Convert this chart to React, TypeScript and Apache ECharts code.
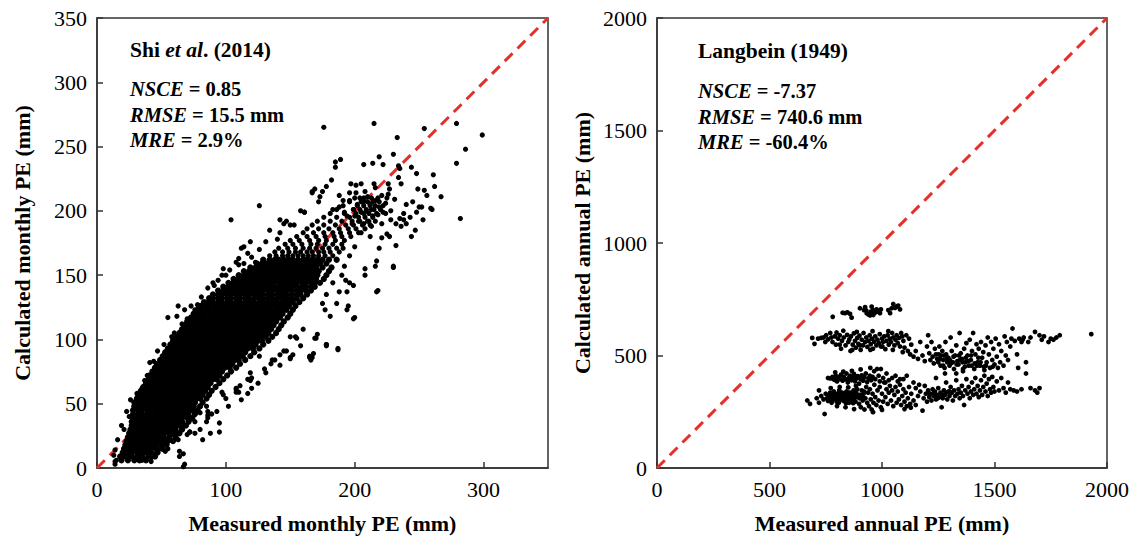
import React, { useEffect, useRef } from "react";
import * as echarts from "echarts";

// ---------- Left panel: monthly PE (Shi et al., 2014) ----------
const monthlyXTicks = [0, 100, 200, 300];
const monthlyYTicks = [0, 50, 100, 150, 200, 250, 300, 350];

// dense cloud read row by row: [calculated, [measured ...]]
const monthlyCoreRows: Array<[number, number[]]> = [
  [6, [19, 24, 29, 33, 38]],
  [9, [18, 22, 27, 31, 35, 40, 45]],
  [12, [20, 24, 27, 31, 34, 38, 42, 47]],
  [15, [21, 25, 28, 32, 35, 39, 42, 46, 51]],
  [18, [22, 26, 29, 32, 36, 39, 43, 46, 50, 54]],
  [21, [23, 27, 30, 33, 37, 40, 44, 47, 51, 55, 59]],
  [24, [24, 27, 31, 34, 38, 41, 45, 48, 52, 56, 61]],
  [27, [25, 28, 32, 35, 38, 42, 45, 49, 52, 56, 60, 64]],
  [30, [26, 29, 33, 36, 40, 43, 47, 50, 54, 57, 61, 66]],
  [33, [27, 30, 34, 37, 41, 44, 48, 51, 55, 58, 62, 65, 69]],
  [36, [27, 31, 34, 38, 41, 45, 48, 52, 55, 59, 62, 66, 71]],
  [39, [28, 31, 35, 38, 42, 45, 49, 52, 56, 59, 63, 66, 70, 74]],
  [42, [28, 32, 35, 39, 42, 46, 49, 53, 56, 60, 63, 67, 71, 76]],
  [45, [28, 32, 35, 39, 42, 46, 50, 53, 57, 60, 64, 67, 71, 74, 78]],
  [48, [29, 32, 36, 39, 43, 47, 50, 54, 57, 61, 64, 68, 72, 75, 80]],
  [51, [29, 33, 36, 40, 44, 47, 51, 54, 58, 61, 65, 69, 72, 76, 82]],
  [54, [31, 34, 38, 41, 45, 48, 52, 56, 59, 63, 66, 70, 73, 77, 80, 85]],
  [57, [32, 36, 39, 43, 46, 50, 53, 57, 61, 64, 68, 71, 75, 78, 82, 87]],
  [60, [34, 37, 41, 44, 48, 51, 55, 59, 62, 66, 69, 73, 76, 80, 84, 89]],
  [63, [36, 39, 43, 46, 50, 53, 57, 60, 64, 68, 71, 75, 78, 82, 86, 92]],
  [66, [38, 41, 45, 48, 52, 55, 59, 62, 66, 69, 73, 77, 80, 84, 88, 95]],
  [69, [40, 43, 47, 50, 54, 57, 61, 64, 68, 72, 75, 79, 82, 86, 90, 93, 98]],
  [72, [41, 45, 48, 52, 55, 59, 63, 66, 70, 73, 77, 80, 84, 88, 91, 95, 101]],
  [75, [43, 47, 50, 54, 57, 61, 64, 68, 72, 75, 79, 82, 86, 89, 93, 97, 104]],
  [78, [45, 49, 52, 56, 59, 63, 67, 70, 74, 77, 81, 85, 88, 92, 95, 99, 103, 108]],
  [81, [47, 51, 54, 58, 61, 65, 69, 72, 76, 79, 83, 87, 90, 94, 97, 101, 105, 111]],
  [84, [49, 53, 56, 60, 63, 67, 71, 74, 78, 81, 85, 89, 92, 96, 99, 103, 107, 110, 115]],
  [87, [51, 55, 58, 62, 65, 69, 73, 76, 80, 83, 87, 91, 94, 98, 101, 105, 109, 113, 119]],
  [90, [53, 57, 60, 64, 67, 71, 75, 78, 82, 85, 89, 93, 96, 100, 103, 107, 111, 115, 122]],
  [93, [55, 59, 62, 66, 69, 73, 77, 80, 84, 87, 91, 95, 98, 102, 105, 109, 113, 117, 121, 126]],
  [96, [57, 61, 64, 68, 71, 75, 79, 82, 86, 89, 93, 97, 100, 104, 107, 111, 115, 119, 123, 129]],
  [99, [59, 63, 66, 70, 73, 77, 81, 84, 88, 91, 95, 99, 102, 106, 109, 113, 117, 121, 125, 128, 133]],
  [102, [62, 65, 69, 72, 76, 79, 83, 86, 90, 94, 97, 101, 104, 108, 111, 115, 119, 123, 127, 131, 136]],
  [105, [64, 67, 71, 74, 78, 81, 85, 89, 92, 96, 99, 103, 106, 110, 114, 117, 121, 125, 129, 133, 139]],
  [108, [66, 69, 73, 76, 80, 83, 87, 91, 94, 98, 101, 105, 108, 112, 116, 119, 123, 127, 131, 135, 141]],
  [111, [68, 72, 75, 79, 82, 86, 89, 93, 96, 100, 104, 107, 111, 114, 118, 122, 125, 129, 133, 137, 143]],
  [114, [70, 74, 77, 81, 84, 88, 91, 95, 99, 102, 106, 109, 113, 117, 120, 124, 128, 131, 135, 139, 145]],
  [117, [73, 76, 80, 83, 87, 90, 94, 98, 101, 105, 108, 112, 116, 119, 123, 126, 130, 134, 138, 142, 148]],
  [120, [75, 79, 82, 86, 89, 93, 96, 100, 104, 107, 111, 114, 118, 122, 125, 129, 133, 136, 140, 144, 150]],
  [123, [78, 81, 85, 88, 92, 95, 99, 102, 106, 110, 113, 117, 120, 124, 128, 131, 135, 139, 143, 147, 152]],
  [126, [80, 84, 87, 91, 94, 98, 101, 105, 109, 112, 116, 119, 123, 127, 130, 134, 138, 141, 145, 149, 154]],
  [129, [83, 87, 90, 94, 97, 101, 104, 108, 111, 115, 119, 122, 126, 129, 133, 137, 140, 144, 148, 152, 157]],
  [132, [87, 90, 94, 97, 101, 104, 108, 111, 115, 118, 122, 126, 129, 133, 136, 140, 144, 147, 151, 155, 160]],
  [135, [90, 94, 97, 101, 104, 108, 111, 115, 118, 122, 125, 129, 133, 136, 140, 143, 147, 151, 155, 158, 163]],
  [138, [94, 98, 101, 105, 108, 112, 115, 119, 122, 126, 129, 133, 136, 140, 144, 147, 151, 155, 158, 162, 166]],
  [141, [98, 102, 105, 109, 112, 116, 119, 123, 126, 130, 133, 137, 141, 144, 148, 151, 155, 159, 162, 166, 169]],
  [144, [102, 106, 109, 113, 116, 120, 123, 127, 130, 134, 137, 141, 145, 148, 152, 155, 159, 162, 166, 169, 173]],
  [147, [106, 110, 113, 117, 120, 124, 127, 131, 134, 138, 142, 145, 149, 152, 156, 159, 163, 166, 170, 176]],
  [150, [110, 114, 117, 121, 124, 128, 131, 135, 139, 142, 146, 149, 153, 156, 160, 163, 167, 171, 178]],
  [153, [114, 118, 122, 125, 129, 132, 136, 140, 143, 147, 150, 154, 157, 161, 165, 168, 172, 180]],
  [156, [119, 123, 127, 130, 134, 138, 141, 145, 148, 152, 156, 159, 163, 167, 170, 175, 182]],
  [159, [124, 128, 132, 136, 139, 143, 147, 150, 154, 158, 161, 165, 169, 173, 178]],
  [162, [129, 134, 138, 141, 145, 149, 152, 156, 160, 163, 167, 171, 175, 180, 186]],
];

// sparser upper part of the cloud, row by row
const monthlyUpperRows: Array<[number, number[]]> = [
  [165, [134, 139, 144, 148, 152, 156, 160, 164, 168, 172, 177, 183]],
  [168, [138, 144, 149, 154, 158, 163, 167, 172, 176, 181, 188]],
  [171, [141, 148, 154, 160, 165, 170, 175, 180, 186, 191]],
  [174, [146, 152, 159, 166, 171, 177, 183, 190]],
  [177, [150, 157, 165, 172, 178, 185, 192]],
  [180, [155, 163, 170, 177, 184, 190, 197]],
  [183, [160, 168, 176, 183, 189, 196, 203]],
  [186, [163, 172, 180, 188, 195, 201, 208]],
  [189, [167, 176, 185, 193, 199, 206, 212]],
  [192, [171, 181, 190, 198, 204, 210, 216]],
  [195, [176, 186, 196, 203, 208, 214]],
  [198, [181, 192, 201, 207, 211, 217, 224]],
  [201, [186, 199, 204, 209, 213, 220]],
  [204, [191, 202, 207, 212, 216, 222]],
  [207, [196, 205, 210, 214, 219]],
  [210, [200, 207, 213, 218, 225]],
];

// scattered points around the cloud: [measured, calculated]
const monthlyFringe: Array<[number, number]> = [
  [44, 83], [46, 81], [40, 72], [37, 68], [26, 53], [23, 44], [19, 33], [16, 22], [14, 14], [13, 10],
  [60, 105], [58, 102], [64, 13], [67, 1], [72, 28], [76, 27], [86, 39], [85, 36], [73, 38], [76, 36],
  [53, 13], [55, 15], [58, 26], [63, 22], [110, 59], [117, 58], [120, 62], [119, 74], [100, 54], [97, 59],
  [89, 42], [93, 44], [55, 117], [63, 126], [78, 127], [91, 142], [100, 150], [103, 154], [108, 160], [110, 163],
  [114, 172], [119, 176], [104, 193], [126, 204], [142, 193], [147, 192], [153, 189], [158, 200], [161, 199],
  [167, 215], [169, 217], [176, 265], [112, 171], [117, 167], [120, 164], [114, 159], [110, 158], [98, 155],
  [97, 150], [90, 144], [84, 129], [76, 123], [70, 116], [134, 185], [142, 183], [145, 190], [150, 189],
  [178, 95], [187, 92], [169, 101], [165, 87], [154, 102], [142, 88], [147, 91], [194, 123], [195, 126],
  [199, 116], [177, 123], [175, 128], [178, 135], [188, 137], [194, 137], [196, 144], [199, 142], [193, 146],
  [192, 157], [150, 102], [155, 101], [170, 101], [178, 96], [165, 86], [166, 84], [152, 88], [150, 85],
  [135, 81], [138, 84], [126, 87], [120, 70], [117, 69], [108, 62], [108, 59], [98, 57], [85, 48], [86, 44],
  [80, 43], [72, 28], [70, 26], [67, 11], [55, 39], [59, 35], [57, 32], [49, 15], [45, 11], [42, 5], [36, 8],
  [23, 11], [14, 5], [14, 3], [15, 6], [24, 9], [35, 6], [42, 8], [64, 9], [68, 3], [55, 21], [41, 82],
  [39, 72], [187, 93], [178, 96], [168, 89], [167, 86], [171, 104], [200, 117], [218, 138], [230, 157],
  [145, 91], [150, 86], [136, 84], [130, 77], [119, 68], [111, 64], [108, 61], [86, 41], [80, 30],
  [215, 268], [254, 264], [279, 268], [299, 259], [233, 257], [286, 248], [279, 237], [282, 194],
  [185, 238], [189, 240], [185, 234], [207, 236], [214, 237], [219, 242], [222, 236], [230, 244], [234, 235],
  [235, 233], [244, 234], [248, 229], [261, 228], [267, 211], [260, 201], [262, 219], [254, 216], [249, 217],
  [256, 212], [245, 207], [250, 203], [252, 203], [248, 199], [243, 195], [247, 185], [238, 193], [236, 188],
  [232, 173], [230, 156], [217, 137], [219, 171], [244, 180], [240, 190], [208, 155], [208, 150], [217, 161],
  [216, 157], [212, 180], [221, 179], [225, 182], [227, 180], [232, 190], [235, 194], [238, 198], [259, 202],
  [253, 193], [197, 221], [201, 220], [205, 221], [215, 221], [216, 218], [226, 221], [227, 217], [234, 226],
  [236, 221], [182, 224], [178, 219], [175, 215], [173, 211], [172, 207], [167, 214], [161, 199], [188, 212],
  [191, 208], [196, 214], [188, 203], [183, 201], [192, 199], [194, 196], [200, 196], [203, 192], [207, 190],
  [211, 192], [214, 196], [215, 201], [212, 205], [207, 207], [202, 205], [199, 201], [205, 199], [209, 200],
  [204, 210], [210, 211], [216, 208], [219, 203], [218, 197], [198, 190], [196, 208], [213, 188], [208, 215],
  [201, 214], [221, 212], [224, 206], [222, 199], [228, 200], [231, 209], [226, 213], [240, 205], [228, 193],
  [62, 118], [68, 123], [73, 126], [81, 133], [86, 140], [94, 146], [71, 110], [66, 112], [52, 96], [47, 91],
  [35, 62], [31, 58], [33, 47], [25, 40], [21, 30], [88, 27], [95, 35], [102, 48], [112, 53], [125, 66],
  [131, 74], [142, 80], [158, 95], [160, 108], [181, 118], [186, 128], [183, 144], [190, 150], [196, 165],
  [200, 172], [205, 183], [221, 190], [126, 170], [131, 176], [140, 178], [123, 160], [95, 28], [82, 22],
];

// ---------- Right panel: annual PE (Langbein, 1949) ----------
const annualTicks = [0, 500, 1000, 1500, 2000];

const annualTopCluster: Array<[number, number]> = [
  [781, 672], [825, 690], [846, 692], [858, 685], [865, 668], [902, 710], [920, 702], [932, 688], [939, 683],
  [947, 678], [954, 717], [961, 702], [969, 690], [976, 705], [984, 695], [991, 688], [961, 680], [1028, 702],
  [1036, 688], [1050, 729], [1065, 717], [1072, 722], [1080, 705], [1043, 710], [930, 700], [950, 695],
  [995, 705], [925, 715], [1058, 712], [835, 688],
];

const annualMiddleBand: Array<[number, number]> = [
  [690, 578], [700, 552], [716, 575], [730, 578], [740, 580], [748, 560], [760, 572], [770, 600], [775, 580],
  [780, 560], [790, 585], [795, 548], [805, 575], [812, 590], [818, 530], [822, 565], [830, 580], [838, 545],
  [845, 592], [850, 560], [855, 572], [860, 520], [862, 585], [870, 548], [875, 598], [880, 565], [884, 535],
  [890, 578], [895, 552], [900, 588], [905, 525], [910, 570], [915, 545], [918, 600], [925, 560], [930, 580],
  [935, 538], [940, 565], [945, 590], [950, 550], [955, 575], [960, 530], [965, 562], [970, 585], [975, 545],
  [980, 570], [986, 555], [990, 595], [995, 540], [1000, 575], [1005, 560], [1010, 585], [1015, 528], [1020, 565],
  [1025, 590], [1030, 548], [1035, 575], [1040, 560], [1045, 600], [1050, 580], [1055, 545], [1060, 570],
  [1065, 590], [1070, 555], [1075, 578], [1080, 540], [1085, 600], [1090, 585], [1095, 565], [1100, 535],
  [1108, 590], [1115, 520], [1120, 575], [1125, 505], [1130, 548], [1140, 495], [1150, 520], [1160, 485],
  [1170, 560], [1180, 500], [1190, 475], [1200, 540], [1205, 590], [1210, 510], [1215, 480], [1220, 560],
  [1225, 495], [1230, 465], [1235, 530], [1240, 505], [1245, 485], [1250, 470], [1255, 540], [1260, 455],
  [1262, 500], [1268, 520], [1272, 480], [1278, 445], [1282, 560], [1285, 505], [1290, 470], [1295, 490],
  [1300, 455], [1305, 580], [1310, 520], [1315, 470], [1320, 440], [1325, 500], [1330, 545], [1335, 475],
  [1340, 460], [1345, 600], [1350, 510], [1355, 485], [1360, 440], [1365, 530], [1370, 470], [1375, 555],
  [1380, 500], [1385, 455], [1390, 570], [1395, 480], [1400, 520], [1405, 600], [1410, 440], [1415, 505],
  [1420, 550], [1425, 470], [1430, 530], [1435, 455], [1440, 560], [1445, 490], [1450, 515], [1455, 435],
  [1460, 545], [1465, 470], [1470, 580], [1475, 505], [1480, 445], [1485, 560], [1490, 480], [1495, 530],
  [1500, 460], [1505, 575], [1510, 495], [1515, 445], [1520, 550], [1525, 470], [1530, 520], [1540, 455],
  [1545, 585], [1550, 500], [1555, 560], [1560, 480], [1570, 540], [1575, 575], [1580, 620], [1590, 565],
  [1600, 505], [1605, 445], [1610, 575], [1620, 560], [1625, 570], [1630, 580], [1640, 470], [1650, 560],
  [1660, 580], [1680, 605], [1700, 590], [1710, 570], [1720, 585], [1740, 560], [1750, 575], [1762, 570],
  [1775, 580], [1790, 590], [1930, 595], [812, 548], [868, 525], [902, 545], [948, 525], [1002, 540],
  [1048, 525], [1092, 515], [1272, 455], [1302, 480], [1342, 500], [1368, 450], [1398, 455], [1428, 490],
  [1462, 455], [1492, 450], [752, 590], [798, 602], [828, 610], [888, 605], [958, 608], [1028, 608],
  [1252, 505], [1258, 485], [1276, 500], [1288, 485], [1306, 465], [1318, 495], [1332, 460], [1346, 480],
  [1358, 470], [1372, 490], [1384, 475], [1396, 500], [1412, 465], [1422, 455], [1438, 470], [1452, 450],
];

const annualLowerBand: Array<[number, number]> = [
  [760, 400], [770, 398], [780, 405], [790, 392], [795, 410], [800, 385], [805, 402], [812, 395], [818, 415],
  [825, 388], [830, 405], [836, 395], [842, 420], [848, 380], [852, 400], [858, 410], [864, 390], [870, 402],
  [875, 418], [880, 385], [886, 398], [892, 408], [898, 375], [904, 395], [910, 412], [916, 388], [922, 403],
  [928, 420], [934, 382], [940, 398], [946, 410], [952, 390], [958, 405], [965, 430], [970, 395], [978, 440],
  [985, 410], [990, 385], [995, 440], [1005, 400], [1015, 380], [1030, 390], [1060, 410], [1080, 395],
  [668, 300], [680, 285], [710, 310], [720, 290], [730, 320], [740, 305], [745, 240], [750, 330], [755, 310],
  [760, 298], [765, 322], [770, 335], [775, 312], [778, 300], [782, 325], [786, 340], [790, 308], [794, 318],
  [798, 295], [802, 330], [806, 312], [810, 345], [814, 302], [818, 322], [822, 335], [826, 310], [830, 298],
  [834, 328], [838, 315], [842, 340], [846, 305], [850, 325], [854, 290], [858, 315], [862, 335], [866, 300],
  [870, 322], [874, 345], [878, 310], [882, 295], [886, 330], [890, 350], [894, 315], [898, 285], [902, 325],
  [906, 270], [910, 345], [914, 300], [918, 330], [922, 260], [926, 310], [930, 360], [934, 290], [938, 335],
  [942, 275], [946, 350], [950, 305], [954, 260], [958, 330], [962, 290], [966, 370], [970, 315], [975, 280],
  [980, 345], [985, 300], [990, 360], [995, 270], [1000, 330], [1005, 295], [1010, 380], [1015, 315],
  [1020, 350], [1025, 285], [1030, 335], [1035, 365], [1040, 300], [1045, 345], [1050, 275], [1055, 325],
  [1060, 360], [1065, 290], [1070, 340], [1075, 305], [1080, 370], [1085, 280], [1090, 320], [1095, 350],
  [1100, 295], [1105, 335], [1110, 275], [1115, 310], [1120, 360], [1125, 285], [1130, 330], [1140, 300],
  [1150, 355], [1160, 320], [1170, 340], [1180, 255], [1185, 310], [1190, 365], [1195, 330], [1200, 295],
  [1205, 345], [1210, 315], [1215, 330], [1220, 300], [1225, 350], [1230, 320], [1235, 340], [1240, 305],
  [1245, 325], [1250, 355], [1255, 315], [1260, 335], [1265, 270], [1270, 310], [1275, 345], [1280, 325],
  [1285, 380], [1290, 305], [1295, 340], [1300, 320], [1305, 360], [1310, 335], [1315, 300], [1320, 345],
  [1325, 320], [1330, 390], [1335, 330], [1340, 350], [1345, 310], [1350, 335], [1355, 365], [1360, 320],
  [1365, 280], [1370, 345], [1375, 395], [1380, 330], [1385, 360], [1390, 310], [1395, 340], [1400, 380],
  [1405, 325], [1410, 350], [1415, 400], [1420, 330], [1425, 365], [1430, 315], [1435, 345], [1440, 390],
  [1445, 325], [1450, 360], [1455, 410], [1460, 340], [1465, 375], [1470, 320], [1475, 395], [1480, 350],
  [1485, 335], [1490, 405], [1495, 360], [1500, 340], [1510, 385], [1520, 345], [1530, 400], [1540, 355],
  [1550, 335], [1560, 380], [1570, 350], [1585, 345], [1600, 340], [1620, 350], [1640, 420], [1660, 355],
  [1680, 345], [1690, 335], [1700, 355], [1020, 420], [1045, 400], [1070, 385], [1095, 395], [1110, 410],
  [1140, 380], [1165, 370], [1240, 400], [1280, 420], [1330, 420], [1360, 430], [792, 425], [828, 428],
  [866, 432], [905, 438], [948, 445], [884, 365], [850, 358], [812, 360], [772, 355], [720, 345],
  [800, 275], [838, 270], [876, 262], [960, 248], [1000, 258], [1100, 262], [1150, 280], [1128, 268],
  [772, 318], [780, 330], [788, 315], [796, 325], [804, 320], [812, 335], [820, 312], [828, 322], [836, 305],
  [844, 318], [852, 335], [860, 305], [868, 330], [876, 318], [884, 340], [892, 325], [900, 310], [764, 308],
  [776, 290], [808, 290], [840, 288], [872, 288], [912, 318], [920, 340], [784, 395], [810, 405], [846, 392],
  [878, 410], [912, 398], [1210, 330], [1232, 335], [1248, 310], [1268, 325], [1284, 335], [1300, 340],
];

const monthlyStats = ["{i|NSCE} = 0.85", "{i|RMSE} = 15.5 mm", "{i|MRE} = 2.9%"];
const annualStats = ["{i|NSCE} = -7.37", "{i|RMSE} = 740.6 mm", "{i|MRE} = -60.4%"];

const SERIF = '"Liberation Serif", "Times New Roman", serif';
const RED = "#e3302b";
const AXIS = "#333";

function axisCommon(min: number, max: number, interval: number, name: string, isX: boolean, gridIndex: number, hideMax: boolean) {
  return {
    type: "value",
    gridIndex,
    min,
    max,
    interval,
    name,
    nameLocation: "middle",
    nameGap: isX ? 44 : 64,
    nameTextStyle: { fontFamily: SERIF, fontWeight: "bold", fontSize: 22, color: "#000" },
    axisLine: { show: true, onZero: false, lineStyle: { color: AXIS, width: 1.5 } },
    axisTick: { show: true, inside: true, length: 6, lineStyle: { color: AXIS, width: 1.5 } },
    axisLabel: {
      fontFamily: SERIF,
      fontSize: 22,
      color: "#000",
      margin: 10,
      showMaxLabel: !hideMax,
      formatter: (v: number) => String(v),
    },
    splitLine: { show: false },
  };
}

const rowsToPoints = (rows: Array<[number, number[]]>) =>
  rows.flatMap(([y, xs]) => xs.map((x) => [x, y]));

export default function App() {
  const ref = useRef<HTMLDivElement>(null);
  useEffect(() => {
    if (!ref.current) return;
    const chart = echarts.init(ref.current, undefined, { renderer: "svg" });
    const monthlyCore = rowsToPoints(monthlyCoreRows);
    const monthlyOther = [...rowsToPoints(monthlyUpperRows), ...monthlyFringe];
    const annualPoints = [...annualTopCluster, ...annualMiddleBand, ...annualLowerBand];

    const richItalic = { i: { fontStyle: "italic", fontWeight: "bold", fontFamily: SERIF, fontSize: 20.5 } };
    const statText = (lines: string[], x: number, y0: number) =>
      lines.map((t, i) => ({
        type: "text",
        x,
        y: y0 + i * 25.5,
        style: {
          text: t,
          fill: "#000",
          fontFamily: SERIF,
          fontSize: 20.5,
          fontWeight: "bold",
          verticalAlign: "middle",
          rich: richItalic,
        },
      }));

    chart.setOption({
      animation: false,
      backgroundColor: "#fff",
      grid: [
        { left: 97, top: 18, width: 451, height: 450, show: true, borderColor: AXIS, borderWidth: 1.5 },
        { left: 657, top: 18, width: 450, height: 450, show: true, borderColor: AXIS, borderWidth: 1.5 },
      ],
      xAxis: [
        axisCommon(monthlyXTicks[0], 350, 100, "Measured monthly PE (mm)", true, 0, true),
        axisCommon(annualTicks[0], annualTicks[annualTicks.length - 1], 500, "Measured annual PE (mm)", true, 1, false),
      ],
      yAxis: [
        axisCommon(monthlyYTicks[0], monthlyYTicks[monthlyYTicks.length - 1], 50, "Calculated monthly PE (mm)", false, 0, false),
        axisCommon(annualTicks[0], annualTicks[annualTicks.length - 1], 500, "Calculated annual PE (mm)", false, 1, false),
      ],
      series: [
        {
          type: "line",
          xAxisIndex: 0,
          yAxisIndex: 0,
          data: [[0, 0], [350, 350]],
          symbol: "none",
          z: 1,
          lineStyle: { color: RED, width: 3, type: [11, 7] },
        },
        {
          type: "scatter",
          xAxisIndex: 0,
          yAxisIndex: 0,
          data: monthlyCore,
          symbolSize: 6.3,
          z: 2,
          itemStyle: { color: "#000", opacity: 1 },
        },
        {
          type: "scatter",
          xAxisIndex: 0,
          yAxisIndex: 0,
          data: monthlyOther,
          symbolSize: 5.2,
          z: 2,
          itemStyle: { color: "#000", opacity: 1 },
        },
        {
          type: "line",
          xAxisIndex: 1,
          yAxisIndex: 1,
          data: [[0, 0], [2000, 2000]],
          symbol: "none",
          z: 1,
          lineStyle: { color: RED, width: 3, type: [11, 7] },
        },
        {
          type: "scatter",
          xAxisIndex: 1,
          yAxisIndex: 1,
          data: annualPoints,
          symbolSize: 4.8,
          z: 2,
          itemStyle: { color: "#000", opacity: 1 },
        },
      ],
      graphic: [
        {
          type: "text",
          x: 130,
          y: 50,
          style: {
            text: "Shi {i|et al}. (2014)",
            fill: "#000",
            fontFamily: SERIF,
            fontSize: 21.5,
            fontWeight: "bold",
            verticalAlign: "middle",
            rich: { i: { fontStyle: "italic", fontWeight: "bold", fontFamily: SERIF, fontSize: 21.5 } },
          },
        },
        ...statText(monthlyStats, 130, 89),
        {
          type: "text",
          x: 698,
          y: 51,
          style: {
            text: "Langbein (1949)",
            fill: "#000",
            fontFamily: SERIF,
            fontSize: 21.5,
            fontWeight: "bold",
            verticalAlign: "middle",
          },
        },
        ...statText(annualStats, 698, 91),
      ],
    });
    return () => chart.dispose();
  }, []);
  return <div ref={ref} style={{ width: 1137, height: 545, position: "absolute", left: 0, top: 0 }} />;
}
